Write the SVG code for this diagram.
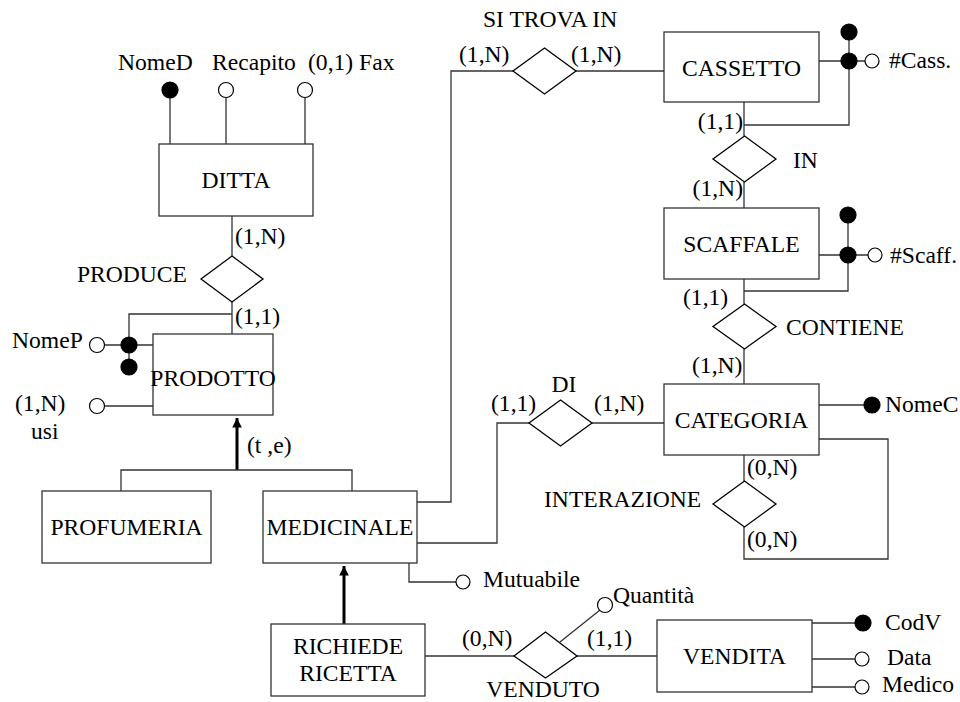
<svg xmlns="http://www.w3.org/2000/svg" width="960" height="702" viewBox="0 0 960 702" font-family="'Liberation Serif', 'Times New Roman', serif">
<defs>
<style>
text{font-family:"Liberation Serif","Times New Roman",serif;font-size:23.6px;fill:#000}
.m{text-anchor:middle}
.e{text-anchor:end}
.box{fill:#fff;stroke:#333;stroke-width:1.3}
.dia{fill:#fff;stroke:#000;stroke-width:1.3}
.ln{fill:none;stroke:#333;stroke-width:1.3}
.thick{fill:none;stroke:#000;stroke-width:3}
.ko{fill:#fff;stroke:#000;stroke-width:1.2}
.kf{fill:#000;stroke:#000;stroke-width:1.2}
</style>
<marker id="arr" viewBox="0 0 10 10" refX="10" refY="5" markerWidth="3.2" markerHeight="3.6" orient="auto" markerUnits="strokeWidth">
<path d="M0,0 L10,5 L0,10 z" fill="#000"/>
</marker>
</defs>
<rect width="960" height="702" fill="#fff"/>
<g id="connectors">
<path class="ln" d="M170,98 V144 M226,98 V144 M305,98 V144"/>
<path class="ln" d="M232,216 V256 M232,302 V334"/>
<path class="ln" d="M232,314 H129 V345 M105,345 H153 M129,345 V367 M105,406 H153"/>
<path class="thick" d="M237,470 V418" marker-end="url(#arr)"/>
<path class="ln" d="M121,491 V470 H352 V491"/>
<path class="thick" d="M344,624 V566" marker-end="url(#arr)"/>
<path class="ln" d="M409,563 V582 H456"/>
<path class="ln" d="M417,502 H451 V71 H513 M576,71 H664"/>
<path class="ln" d="M417,543 H497 V423 H529 M592,423 H664"/>
<path class="ln" d="M819,61 H849 M849,32 V125 H744 M849,61 H865"/>
<path class="ln" d="M744,102 V136 M744,182 V208"/>
<path class="ln" d="M819,255 H848 M848,215 V291 H744 M848,255 H868"/>
<path class="ln" d="M744,279 V304 M744,349 V384"/>
<path class="ln" d="M819,405 H872"/>
<path class="ln" d="M744,455 V481 M744,527 V559 H888 V439 H819"/>
<path class="ln" d="M425,656 H514 M577,656 H657 M560,642 L600,610"/>
<path class="ln" d="M812,623 H863 M812,659 H855 M812,687 H855"/>
</g>
<g id="ditta">
<rect class="box" x="159" y="144" width="154" height="72"/>
<text class="m" x="236" y="188">DITTA</text>
<circle class="kf" cx="170" cy="90" r="8"/>
<circle class="ko" cx="226" cy="90" r="7.5"/>
<circle class="ko" cx="305" cy="90" r="7.5"/>
<text x="118" y="70">NomeD</text>
<text x="212" y="70">Recapito</text>
<text x="308" y="70">(0,1) Fax</text>
</g>
<g id="produce">
<polygon class="dia" points="232,256 263,279 232,302 201,279"/>
<text class="e" x="187" y="282">PRODUCE</text>
<text x="235" y="244">(1,N)</text>
<text x="235" y="324">(1,1)</text>
</g>
<g id="prodotto">
<rect class="box" x="153" y="334" width="120" height="81"/>
<text class="m" x="213" y="386">PRODOTTO</text>
<circle class="kf" cx="129" cy="345" r="8"/>
<circle class="kf" cx="129" cy="367" r="8"/>
<circle class="ko" cx="97" cy="345" r="7.5"/>
<circle class="ko" cx="97" cy="406" r="7.5"/>
<text x="12" y="348">NomeP</text>
<text x="15" y="411">(1,N)</text>
<text x="31" y="439">usi</text>
<text x="247" y="453">(t ,e)</text>
</g>
<g id="profumeria">
<rect class="box" x="42" y="491" width="169" height="72"/>
<text class="m" x="126.5" y="535">PROFUMERIA</text>
</g>
<g id="medicinale">
<rect class="box" x="263" y="491" width="154" height="72"/>
<text class="m" x="340" y="535">MEDICINALE</text>
<circle class="ko" cx="463" cy="582" r="7"/>
<text x="483" y="587">Mutuabile</text>
</g>
<g id="richiede">
<rect class="box" x="271" y="624" width="154" height="72"/>
<text class="m" x="348" y="654">RICHIEDE</text>
<text class="m" x="348" y="681">RICETTA</text>
</g>
<g id="venduto">
<polygon class="dia" points="545.5,632 577,656 545.5,678 514,656"/>
<circle class="ko" cx="605" cy="605" r="7.5"/>
<text x="613" y="603">Quantità</text>
<text x="462" y="646">(0,N)</text>
<text x="587" y="646">(1,1)</text>
<text class="m" x="543" y="697">VENDUTO</text>
</g>
<g id="vendita">
<rect class="box" x="657" y="620" width="155" height="72"/>
<text class="m" x="734.5" y="664">VENDITA</text>
<circle class="kf" cx="863" cy="623" r="8"/>
<circle class="ko" cx="862" cy="659" r="7"/>
<circle class="ko" cx="862" cy="687" r="7"/>
<text x="885" y="630">CodV</text>
<text x="887" y="665">Data</text>
<text x="882" y="692">Medico</text>
</g>
<g id="sitrovain">
<polygon class="dia" points="544.5,48 576,71 544.5,94 513,71"/>
<text x="483" y="27">SI TROVA IN</text>
<text x="459" y="62">(1,N)</text>
<text x="571" y="62">(1,N)</text>
</g>
<g id="cassetto">
<rect class="box" x="664" y="32" width="155" height="70"/>
<text class="m" x="741.5" y="76">CASSETTO</text>
<circle class="kf" cx="849" cy="32" r="8"/>
<circle class="kf" cx="849" cy="61" r="8"/>
<circle class="ko" cx="872" cy="61" r="7"/>
<text x="889" y="68">#Cass.</text>
</g>
<g id="in">
<polygon class="dia" points="744.5,136 776,159 744.5,182 713,159"/>
<text class="e" x="743" y="129">(1,1)</text>
<text x="793" y="168">IN</text>
<text class="e" x="743" y="196">(1,N)</text>
</g>
<g id="scaffale">
<rect class="box" x="664" y="208" width="155" height="71"/>
<text class="m" x="741.5" y="252">SCAFFALE</text>
<circle class="kf" cx="848" cy="215" r="8"/>
<circle class="kf" cx="848" cy="255" r="8"/>
<circle class="ko" cx="875" cy="255" r="7"/>
<text x="890" y="263">#Scaff.</text>
</g>
<g id="contiene">
<polygon class="dia" points="744.5,304 776,326.5 744.5,349 713,326.5"/>
<text x="683" y="305">(1,1)</text>
<text x="786" y="335">CONTIENE</text>
<text x="692" y="373">(1,N)</text>
</g>
<g id="categoria">
<rect class="box" x="664" y="384" width="155" height="71"/>
<text class="m" x="741.5" y="428">CATEGORIA</text>
<circle class="kf" cx="872" cy="405" r="8"/>
<text x="885" y="412">NomeC</text>
</g>
<g id="di">
<polygon class="dia" points="560.5,400 592,423 560.5,446 529,423"/>
<text class="m" x="564" y="392">DI</text>
<text x="491" y="411">(1,1)</text>
<text x="594" y="411">(1,N)</text>
</g>
<g id="interazione">
<polygon class="dia" points="744.5,481 776,504 744.5,527 713,504"/>
<text x="544" y="507">INTERAZIONE</text>
<text x="747" y="475">(0,N)</text>
<text x="747" y="547">(0,N)</text>
</g>
</svg>
